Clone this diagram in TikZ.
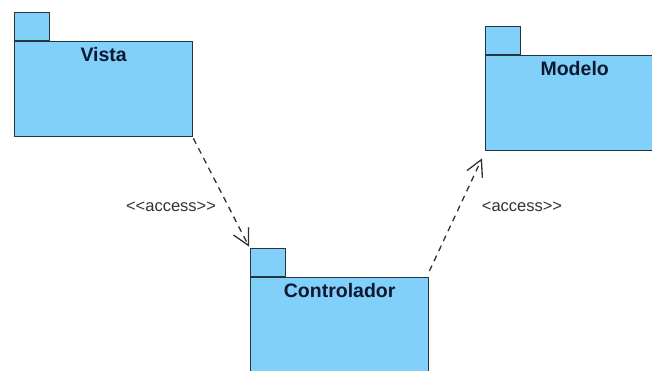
\documentclass[tikz,border=0pt]{standalone}
\usepackage{fontspec}
\setmainfont{Liberation Sans}
\usetikzlibrary{arrows.meta,calc}

\definecolor{pkgfill}{RGB}{128,208,250}
\definecolor{pkgline}{RGB}{40,52,66}
\definecolor{pkgtext}{RGB}{14,24,48}
\definecolor{deptext}{RGB}{50,50,50}

% angle brackets kept apart so the font mapping does not merge them
\newcommand{\dlt}{<\kern0pt}
\newcommand{\dgt}{>\kern0pt}

\tikzset{
  pkgbody/.style={draw=pkgline, fill=pkgfill, line width=1.4pt,
    minimum width=178pt, minimum height=95pt, inner sep=0pt, anchor=north west},
  pkgtab/.style={draw=pkgline, fill=pkgfill, line width=1.4pt,
    minimum width=35pt, minimum height=28pt, inner sep=0pt, anchor=south west},
  pkglabel/.style={text=pkgtext, font=\fontsize{19.5}{22}\selectfont\bfseries, inner sep=0pt},
  dependency/.style={draw=deptext, line width=1.3pt, dash pattern=on 6pt off 5pt,
    -{Straight Barb[length=16pt, width=17pt, line width=1.3pt]}},
  deplabel/.style={text=deptext, font=\fontsize{16.5}{19}\selectfont, inner sep=0pt}
}

\begin{document}
\begin{tikzpicture}[x=1pt, y=-1pt]
  \useasboundingbox (0,0) rectangle (652,370);
  \clip (0,0) rectangle (652,370);
  \fill[white] (0,0) rectangle (652,370);

  % Vista package
  \node[pkgbody] (vista) at (14,41) {};
  \node[pkgtab] (vistatab) at (vista.north west) {};
  \node[pkglabel] (vistalabel) at ($(vista.north)+(0,14)$) {Vista};

  % Modelo package
  \node[pkgbody] (modelo) at (485,55) {};
  \node[pkgtab] (modelotab) at (modelo.north west) {};
  \node[pkglabel] (modelolabel) at ($(modelo.north)+(0,14)$) {Modelo};

  % Controlador package
  \node[pkgbody] (ctrl) at (250,277) {};
  \node[pkgtab] (ctrltab) at (ctrl.north west) {};
  \node[pkglabel] (ctrllabel) at ($(ctrl.north)+(0,14)$) {Controlador};

  % dependency ends
  \coordinate (vistaend) at ($(vista.south east)+(0,1)$);
  \coordinate (ctrltip) at ($(ctrltab.north west)+(-1,-1)$);
  \coordinate (ctrlend) at ($(ctrl.north east)+(0,-6)$);
  \coordinate (modelotip) at ($(modelo.south west)+(-3,7)$);

  % access dependencies
  \draw[dependency] (vistaend) -- (ctrltip);
  \draw[dependency] (ctrlend) -- (modelotip);

  \node[deplabel] (access1) at (171,207) {\dlt\dlt access\dgt\dgt};
  \node[deplabel] (access2) at (522,207) {\dlt access\dgt\dgt};
\end{tikzpicture}
\end{document}
